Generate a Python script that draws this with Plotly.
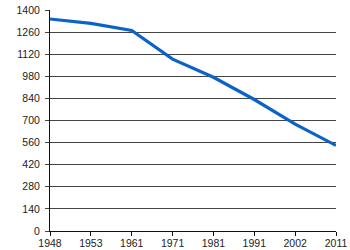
import plotly.graph_objects as go

years = ["1948", "1953", "1961", "1971", "1981", "1991", "2002", "2011"]
population = [1343, 1315, 1270, 1089, 974, 833, 677, 542]
y_ticks = [0, 140, 280, 420, 560, 700, 840, 980, 1120, 1260, 1400]

fig = go.Figure()
fig.add_trace(go.Scatter(
    x=list(range(len(years))), y=population, mode="lines",
    line=dict(color="#0a64c8", width=3.2),
    hoverinfo="skip",
))

fig.update_layout(
    width=350, height=250,
    margin=dict(l=50, r=14, t=10, b=19, autoexpand=False),
    paper_bgcolor="white", plot_bgcolor="white",
    showlegend=False,
    font=dict(family="Liberation Sans, Arial, sans-serif", size=10.5, color="#222"),
)
fig.update_xaxes(
    range=[0, len(years) - 1],
    tickmode="array", tickvals=list(range(len(years))), ticktext=years,
    showgrid=False, showline=True, linecolor="#111", linewidth=1,
    ticks="outside", ticklen=4, tickcolor="#111", tickwidth=1,
    zeroline=False, automargin=False, ticklabelstandoff=-2,
)
fig.update_yaxes(
    range=[0, 1400],
    tickmode="array", tickvals=y_ticks,
    showgrid=True, gridcolor="#444", gridwidth=1,
    showline=True, linecolor="#111", linewidth=1,
    ticks="outside", ticklen=4, tickcolor="#444", tickwidth=1,
    zeroline=False, automargin=False, ticklabelstandoff=3,
)

fig.write_html("out.html")
